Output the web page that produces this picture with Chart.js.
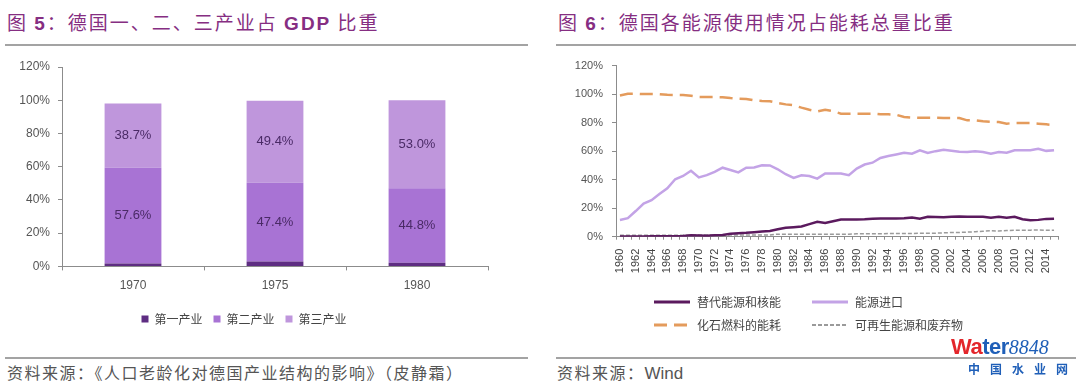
<!DOCTYPE html>
<html>
<head>
<meta charset="utf-8">
<script src="https://cdn.jsdelivr.net/npm/chart.js@4.4.1/dist/chart.umd.min.js"></script>
<style>
body { margin: 0; width: 1080px; height: 389px; background: #fff; position: relative; overflow: hidden; font-family: "Liberation Sans", Arial, sans-serif; }
.title { position: absolute; top: 9px; font-family: "Noto Sans CJK SC", sans-serif; font-size: 19px; line-height: 26px; color: #862e82; letter-spacing: 2px; white-space: nowrap; }
.title b { font-family: "Liberation Sans", Arial, sans-serif; font-weight: bold; }
.rule { position: absolute; height: 2px; background: #a3a3a3; }
.src { position: absolute; top: 361px; font-family: "Noto Sans CJK SC", sans-serif; font-size: 16px; line-height: 22px; color: #555; letter-spacing: 1.5px; white-space: nowrap; }
.src span { font-family: "Liberation Sans", Arial, sans-serif; letter-spacing: 0; font-size: 17px; }
canvas { position: absolute; }
#legend2 { position: absolute; left: 654px; top: 293px; font-family: "Noto Sans CJK SC", sans-serif; font-size: 12px; color: #444; display: grid; grid-template-columns: 158px 200px; row-gap: 6px; }
#legend2 div { display: flex; align-items: center; height: 17px; }
#legend2 svg { margin-right: 7px; }
.logo { position: absolute; left: 951px; top: 334px; font-family: "Liberation Sans", Arial, sans-serif; white-space: nowrap; }
.logo .w { font-size: 22px; font-weight: bold; color: #e3262b; letter-spacing: -0.5px; }
.logo .w i { font-style: normal; color: #1f5fb8; }
.logo .n { font-family: "Liberation Serif", serif; font-style: italic; font-size: 20px; color: #1f5fb8; }
.logo .cn { position: absolute; left: 17px; top: 26px; font-family: "Noto Sans CJK SC", sans-serif; font-weight: bold; font-size: 12px; color: #1f5fb8; letter-spacing: 10px; }
</style>
</head>
<body>
<div class="title" style="left:7px">图 <b>5</b>：德国一、二、三产业占 <b>GDP</b> 比重</div>
<div class="rule" style="left:5px; top:44px; width:523px"></div>
<div class="title" style="left:558px">图 <b>6</b>：德国各能源使用情况占能耗总量比重</div>
<div class="rule" style="left:556px; top:44px; width:520px"></div>

<canvas id="gdpChart" width="520" height="290" style="left:0; top:50px"></canvas>
<canvas id="energyChart" width="540" height="250" style="left:540px; top:50px"></canvas>
<div id="legend2"></div>

<div class="rule" style="left:5px; top:357px; width:523px"></div>
<div class="src" style="left:7px">资料来源：《人口老龄化对德国产业结构的影响》（皮静霜）</div>
<div class="rule" style="left:556px; top:357px; width:520px"></div>
<div class="src" style="left:557px">资料来源：<span>Wind</span></div>
<div class="logo"><span class="w">Wa<i>ter</i></span><span class="n">8848</span><div class="cn">中国水业网</div></div>

<script>
// Figure 5: GDP shares by sector
const gdpYears = ['1970', '1975', '1980'];
const primaryShare = [1.7, 2.9, 2.2];
const secondaryShare = [57.6, 47.4, 44.8];
const tertiaryShare = [38.7, 49.4, 53.0];
const sectorNames = ['第一产业', '第二产业', '第三产业'];
const pctTicks = [0, 20, 40, 60, 80, 100, 120];

// Figure 6: energy sources as share of total consumption
const energyYears = [
	'1960', '1961', '1962', '1963', '1964', '1965', '1966', '1967', '1968', '1969',
	'1970', '1971', '1972', '1973', '1974', '1975', '1976', '1977', '1978', '1979',
	'1980', '1981', '1982', '1983', '1984', '1985', '1986', '1987', '1988', '1989',
	'1990', '1991', '1992', '1993', '1994', '1995', '1996', '1997', '1998', '1999',
	'2000', '2001', '2002', '2003', '2004', '2005', '2006', '2007', '2008', '2009',
	'2010', '2011', '2012', '2013', '2014', '2015'
];
const nuclearAlt = [
	0.2, 0.2, 0.2, 0.2, 0.3, 0.3, 0.3, 0.4, 0.5, 1.0,
	0.8, 0.6, 1.0, 1.2, 2.0, 2.5, 2.7, 3.2, 3.7, 4.0,
	5.2, 6.3, 6.7, 7.2, 8.8, 10.5, 9.6, 10.8, 12.0, 12.1,
	12.1, 12.2, 12.6, 12.8, 12.8, 12.8, 12.9, 13.5, 12.6, 14.0,
	13.8, 13.6, 14.0, 14.1, 14.0, 14.0, 14.0, 13.3, 14.0, 13.3,
	14.0, 12.2, 11.6, 11.8, 12.5, 12.6
];
const energyImports = [
	11.7, 13.0, 18.0, 23.3, 25.6, 30.0, 34.0, 40.3, 42.6, 46.2,
	41.6, 43.2, 45.5, 48.4, 46.8, 45.1, 48.4, 48.6, 50.1, 50.0,
	47.3, 43.8, 41.2, 43.1, 42.6, 40.7, 44.3, 44.3, 44.3, 43.2,
	47.8, 50.6, 51.9, 55.2, 56.6, 57.7, 58.9, 58.2, 60.6, 58.8,
	60.0, 61.0, 60.3, 59.6, 59.4, 59.9, 59.4, 58.2, 59.4, 58.9,
	60.6, 60.6, 60.6, 61.7, 60.2, 60.6
];
const fossilFuels = [
	99.1, 100.2, 100.3, 100.0, 100.0, 100.0, 99.5, 99.4, 99.3, 98.8,
	98.0, 97.9, 98.0, 97.8, 97.2, 96.8, 96.6, 95.6, 95.2, 95.0,
	93.8, 92.8, 92.2, 90.5, 89.0, 87.8, 89.0, 88.0, 86.3, 86.3,
	86.3, 86.3, 86.3, 85.8, 85.8, 85.5, 83.9, 83.6, 83.4, 83.4,
	83.4, 83.2, 83.2, 83.2, 81.6, 81.6, 80.9, 80.6, 80.4, 79.3,
	79.8, 79.8, 79.8, 79.3, 78.8, 78.3
];
const renewables = [
	1.0, 1.0, 1.0, 1.0, 1.0, 1.0, 1.0, 1.0, 1.0, 1.0,
	1.2, 1.2, 1.2, 1.2, 1.2, 1.2, 1.2, 1.2, 1.2, 1.2,
	1.8, 1.8, 1.8, 1.8, 1.8, 1.8, 1.8, 1.8, 1.8, 1.8,
	2.0, 2.0, 2.1, 2.1, 2.2, 2.2, 2.3, 2.3, 2.4, 2.4,
	2.5, 2.7, 2.9, 3.0, 3.2, 3.5, 3.8, 4.2, 4.0, 4.3,
	4.5, 4.6, 4.6, 4.7, 4.5, 4.6
];
const energyNames = ['替代能源和核能', '能源进口', '化石燃料的能耗', '可再生能源和废弃物'];

const tickFont = { family: '"Liberation Sans", Arial, sans-serif', size: 12 };
const axisGray = '#8c8c8c';

// value labels in the middle of the 2nd and 3rd segments
const barLabels = {
	id: 'barLabels',
	afterDatasetsDraw(chart) {
		const ctx = chart.ctx;
		ctx.save();
		ctx.font = '13px "Liberation Sans", Arial, sans-serif';
		ctx.fillStyle = '#4a2a66';
		ctx.textAlign = 'center';
		ctx.textBaseline = 'middle';
		[1, 2].forEach(di => {
			chart.getDatasetMeta(di).data.forEach((bar, i) => {
				const v = chart.data.datasets[di].data[i];
				ctx.fillText(v.toFixed(1) + '%', bar.x, (bar.y + bar.base) / 2);
			});
		});
		ctx.restore();
	}
};

new Chart(document.getElementById('gdpChart'), {
	type: 'bar',
	data: {
		labels: gdpYears,
		datasets: [
			{ label: sectorNames[0], data: primaryShare, backgroundColor: '#5e2d82' },
			{ label: sectorNames[1], data: secondaryShare, backgroundColor: '#a873d4' },
			{ label: sectorNames[2], data: tertiaryShare, backgroundColor: '#bf96dc' }
		]
	},
	options: {
		responsive: false,
		animation: false,
		categoryPercentage: 1,
		barPercentage: 0.4,
		layout: { padding: { top: 17, right: 32, bottom: 5, left: 0 } },
		scales: {
			x: {
				stacked: true,
				grid: { drawOnChartArea: false, tickLength: 4, color: axisGray },
				border: { color: axisGray },
				ticks: { font: tickFont, color: '#555', padding: 8 },
				afterFit: s => { s.height = 35.6; }
			},
			y: {
				stacked: true,
				min: 0, max: 120,
				afterBuildTicks: s => { s.ticks = pctTicks.map(v => ({ value: v })); },
				grid: { drawOnChartArea: false, tickLength: 4, color: axisGray },
				border: { color: axisGray },
				ticks: { font: tickFont, color: '#555', padding: 8, callback: v => v + '%' },
				afterFit: s => { s.width = 62; }
			}
		},
		plugins: {
			legend: {
				position: 'bottom',
				labels: {
					boxWidth: 7, boxHeight: 7, padding: 11,
					color: '#444',
					font: { family: '"Noto Sans CJK SC", sans-serif', size: 12 }
				}
			},
			tooltip: { enabled: false }
		}
	},
	plugins: [barLabels]
});

const energySets = [
	{ label: energyNames[0], data: nuclearAlt, borderColor: '#5b1a5e', borderWidth: 2.5, dash: [] },
	{ label: energyNames[1], data: energyImports, borderColor: '#c3a3e6', borderWidth: 2.5, dash: [] },
	{ label: energyNames[2], data: fossilFuels, borderColor: '#e49b5c', borderWidth: 2.5, dash: [13, 7] },
	{ label: energyNames[3], data: renewables, borderColor: '#9a9a9a', borderWidth: 1.5, dash: [4, 2] }
];

new Chart(document.getElementById('energyChart'), {
	type: 'line',
	data: {
		labels: energyYears,
		datasets: energySets.map(d => ({
			label: d.label,
			data: d.data,
			borderColor: d.borderColor,
			borderWidth: d.borderWidth,
			borderDash: d.dash,
			pointRadius: 0,
			tension: 0,
			fill: false
		}))
	},
	options: {
		responsive: false,
		animation: false,
		layout: { padding: { top: 15, right: 22, bottom: 0, left: 0 } },
		scales: {
			x: {
				offset: true,
				grid: { drawOnChartArea: false, tickLength: 3, color: axisGray, offset: true },
				border: { color: axisGray },
				ticks: {
					font: { family: '"Liberation Sans", Arial, sans-serif', size: 11 },
					color: '#444',
					autoSkip: false,
					minRotation: 90, maxRotation: 90,
					padding: 9,
					callback: function(v, i) { return i % 2 === 0 ? this.getLabelForValue(v) : ''; }
				},
				afterFit: s => { s.height = 63.3; }
			},
			y: {
				min: 0, max: 120,
				afterBuildTicks: s => { s.ticks = pctTicks.map(v => ({ value: v })); },
				grid: { drawOnChartArea: false, tickLength: 4, color: axisGray },
				border: { color: axisGray },
				ticks: { font: { family: '"Liberation Sans", Arial, sans-serif', size: 11 }, color: '#555', padding: 9, callback: v => v + '%' },
				afterFit: s => { s.width = 76; }
			}
		},
		plugins: {
			legend: { display: false },
			tooltip: { enabled: false }
		}
	}
});

// legend for figure 6, two per row like the original
const legendOrder = [0, 1, 2, 3];
const legendBox = document.getElementById('legend2');
legendOrder.forEach(i => {
	const d = energySets[i];
	const item = document.createElement('div');
	const dash = d.dash.length ? ` stroke-dasharray="${d.dash.join(',')}"` : '';
	item.innerHTML = `<svg width="36" height="6"><line x1="0" y1="3" x2="36" y2="3" stroke="${d.borderColor}" stroke-width="${d.borderWidth + 0.5}"${dash}/></svg>${d.label}`;
	legendBox.appendChild(item);
});
</script>
</body>
</html>
